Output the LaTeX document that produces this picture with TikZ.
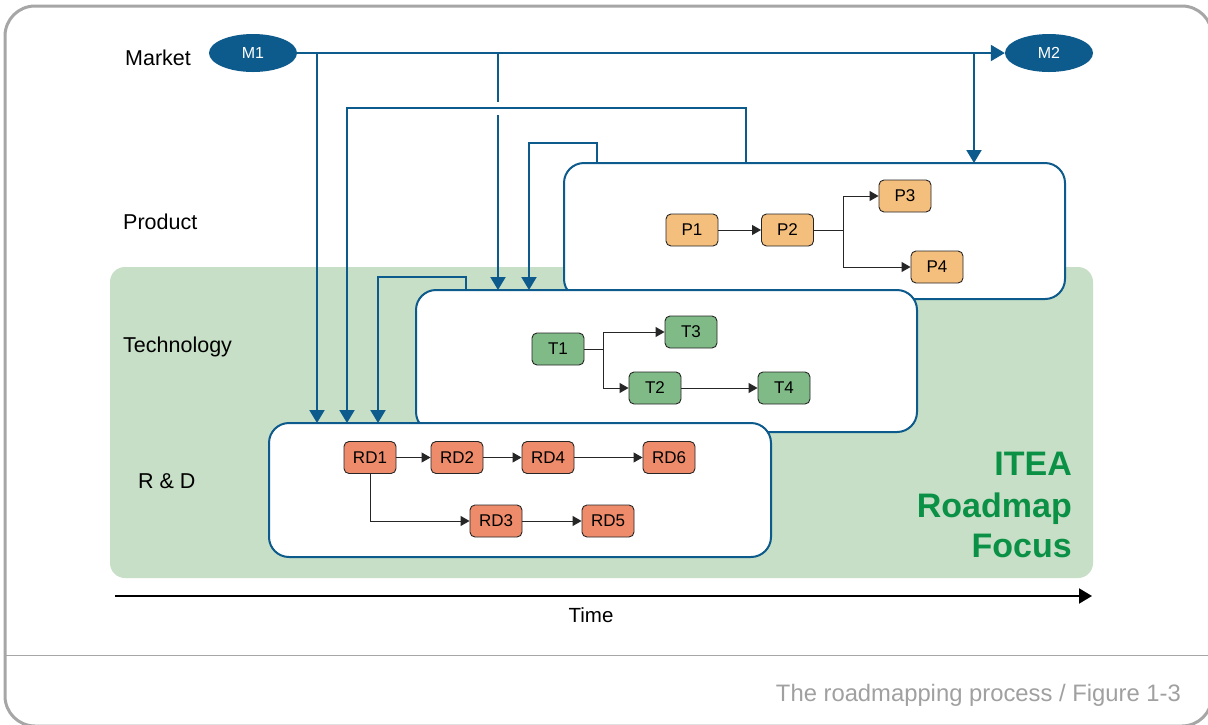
\documentclass[tikz,border=0pt]{standalone}
\usepackage{fontspec}
\setmainfont{Liberation Sans}
\usetikzlibrary{shapes.geometric,arrows.meta}

\definecolor{mblue}{HTML}{0D5A8C}
\definecolor{focusgreen}{HTML}{C6DFC6}
\definecolor{iteagreen}{HTML}{0A9146}
\definecolor{pfill}{HTML}{F4BE7D}
\definecolor{tfill}{HTML}{80BA86}
\definecolor{rdfill}{HTML}{EE8B6A}
\definecolor{framegray}{HTML}{A6A6A6}
\definecolor{captiongray}{HTML}{A0A0A0}

\tikzset{
  conn/.style={draw=mblue, line width=2pt},
  conntip/.style={-{Triangle[length=13pt,width=15pt]}},
  bigbox/.style={draw=mblue, line width=2pt, fill=white, rounded corners=20pt,
    inner sep=0pt, outer sep=0pt},
  item/.style={draw=black!85, line width=0.9pt, rounded corners=5pt,
    minimum width=52pt, minimum height=32pt, inner sep=0pt,
    font=\fontsize{17}{20}\selectfont},
  flow/.style={draw=black!85, line width=1pt, -{Triangle[length=9pt,width=10pt]}},
  rowlabel/.style={anchor=base west, inner sep=0pt, font=\fontsize{21.5}{25}\selectfont},
  marketnode/.style={ellipse, fill=mblue, text=white, minimum width=88pt,
    minimum height=38pt, inner sep=0pt, font=\fontsize{16}{19}\selectfont},
  focustext/.style={anchor=base east, inner sep=0pt, text=iteagreen,
    font=\bfseries\fontsize{34}{41}\selectfont},
}

\begin{document}
\begin{tikzpicture}[x=1pt, y=-1pt]
\useasboundingbox (0,0) rectangle (1208,724);
\clip (0,0) rectangle (1208,724);
\fill[white] (0,0) rectangle (1208,724);

% outer frame and footer separator
\draw[framegray, line width=3pt, rounded corners=30pt] (5,6) rectangle (1212,726);
\draw[framegray, line width=1.8pt] (5,655.5) -- (1208,655.5);

% ITEA focus area
\fill[focusgreen, rounded corners=15pt] (110,267) rectangle (1093,578);

% layer boxes
\node[bigbox, minimum width=501pt, minimum height=136pt] (pbox) at (814.5,231) {};
\node[bigbox, minimum width=501pt, minimum height=142pt] (tbox) at (666.5,361) {};
\node[bigbox, minimum width=502pt, minimum height=134pt] (rdbox) at (520,490) {};

% row labels
\node[rowlabel] (lmarket) at (125,65) {Market};
\node[rowlabel] (lproduct) at (123,229) {Product};
\node[rowlabel] (ltech) at (123,352) {Technology};
\node[rowlabel] (lrd) at (138,488) {R \& D};

% market milestones
\node[marketnode] (m1) at (253,53) {M1};
\node[marketnode] (m2) at (1049,53) {M2};
\draw[conn, -{Triangle[length=14pt,width=16pt]}] (m1.east) -- (m2.west);

% market drivers down to the layers
\coordinate (b1) at (317,53);
\coordinate (b2) at (498,53);
\coordinate (b3) at (974,53);
\draw[conn, conntip] (b1) -- (b1 |- rdbox.north);
\draw[conn, conntip] (b2) -- (b2 |- tbox.north);
\draw[conn, conntip] (b3) -- (b3 |- pbox.north);

% line jump where the feedback line crosses
\fill[white] (493,101.5) rectangle (503,114.5);

% feedback from upper layers to lower layers
\draw[conn, conntip] (746,0 |- pbox.north) |- (347,108) -- (347,0 |- rdbox.north);
\draw[conn, conntip] (597,0 |- pbox.north) |- (529,143) -- (529,0 |- tbox.north);
\draw[conn, conntip] (466,0 |- tbox.north) |- (378,277) -- (378,0 |- rdbox.north);

% product roadmap
\node[item, fill=pfill] (p1) at (692,230) {P1};
\node[item, fill=pfill] (p2) at (787.5,230) {P2};
\node[item, fill=pfill] (p3) at (905,196) {P3};
\node[item, fill=pfill] (p4) at (937,267) {P4};
\draw[flow] (p1) -- (p2);
\draw[flow] (p2.east) -- ++(30,0) |- (p3.west);
\draw[flow] (p2.east) -- ++(30,0) |- (p4.west);

% technology roadmap
\node[item, fill=tfill] (t1) at (558,349) {T1};
\node[item, fill=tfill] (t3) at (691,332) {T3};
\node[item, fill=tfill] (t2) at (655,388) {T2};
\node[item, fill=tfill] (t4) at (784,388) {T4};
\draw[flow] (t1.east) -- ++(19,0) |- (t3.west);
\draw[flow] (t1.east) -- ++(19,0) |- (t2.west);
\draw[flow] (t2) -- (t4);

% R&D roadmap
\node[item, fill=rdfill] (rd1) at (370,457.5) {RD1};
\node[item, fill=rdfill] (rd2) at (457,457.5) {RD2};
\node[item, fill=rdfill] (rd4) at (548,457.5) {RD4};
\node[item, fill=rdfill] (rd6) at (669,457.5) {RD6};
\node[item, fill=rdfill] (rd3) at (496,521) {RD3};
\node[item, fill=rdfill] (rd5) at (608,521) {RD5};
\draw[flow] (rd1) -- (rd2);
\draw[flow] (rd2) -- (rd4);
\draw[flow] (rd4) -- (rd6);
\draw[flow] (rd1.south) |- (rd3.west);
\draw[flow] (rd3) -- (rd5);

% focus label
\node[focustext] (itea1) at (1072,475) {ITEA};
\node[focustext] (itea2) at (1072,517) {Roadmap};
\node[focustext] (itea3) at (1072,557) {Focus};

% time axis
\coordinate (tstart) at (115,596);
\coordinate (tend) at (1092,596);
\draw[line width=2pt, -{Triangle[length=13pt,width=15pt]}] (tstart) -- (tend);
\node[anchor=base, inner sep=0pt, font=\fontsize{20.5}{24}\selectfont] (time) at (591,622.5) {Time};

% caption
\node[anchor=base east, inner sep=0pt, text=captiongray, font=\fontsize{23.8}{28}\selectfont] (caption) at (1181,701) {The roadmapping process / Figure 1-3};
\end{tikzpicture}
\end{document}
